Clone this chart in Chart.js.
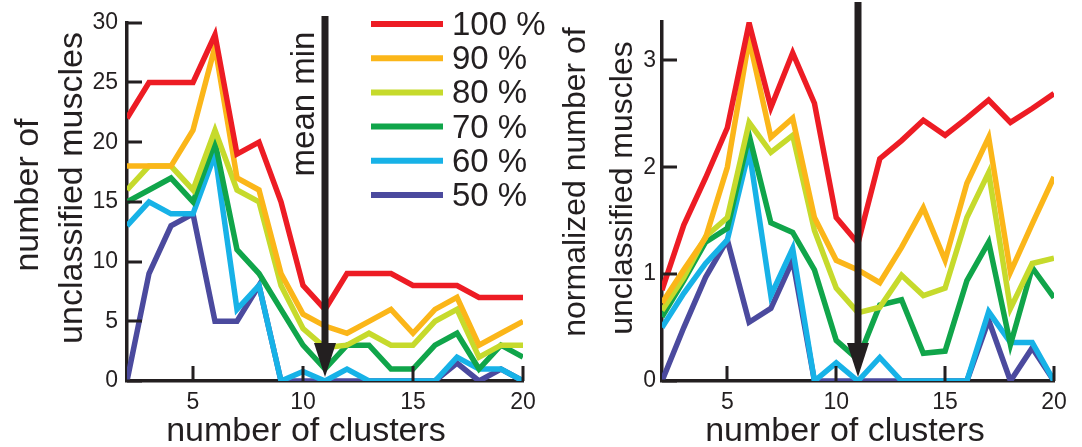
<!DOCTYPE html>
<html>
<head>
<meta charset="utf-8">
<title>unclassified muscles</title>
<script src="https://cdn.jsdelivr.net/npm/chart.js@4.4.1/dist/chart.umd.min.js"></script>
<style>
    html, body { margin: 0; padding: 0; background: #fff; }
    #wrap { position: relative; width: 1082px; height: 447px; overflow: hidden; }
    .box { position: absolute; top: 0; height: 447px; }
    #leftBox { left: 0; width: 548px; }
    #rightBox { left: 548px; width: 534px; }
</style>
</head>
<body>
<div id="wrap">
    <div class="box" id="leftBox"><canvas id="countChart"></canvas></div>
    <div class="box" id="rightBox"><canvas id="normChart"></canvas></div>
</div>
<script>
// number of clusters (x)
const CLUSTERS = [2, 3, 4, 5, 6, 7, 8, 9, 10, 11, 12, 13, 14, 15, 16, 17, 18, 19, 20];
const SERIES_LABELS = ['100 %', '90 %', '80 %', '70 %', '60 %', '50 %'];
const SERIES_COLORS = ['#ED1C24', '#FBB619', '#C6DA2C', '#10A54A', '#17B2E7', '#4B4A9E'];

// left: number of unclassified muscles
const COUNT_100 = [22, 25, 25, 25, 29, 19, 20, 15, 8, 6, 9, 9, 9, 8, 8, 8, 7, 7, 7];
const COUNT_90  = [18, 18, 18, 21, 28, 17, 16, 9, 5.6, 4.6, 4, 5, 6, 4, 6, 7, 3, 4, 5];
const COUNT_80  = [16, 18, 18, 16, 21, 16, 15, 8, 4.4, 2.8, 3, 4, 3, 3, 5, 6, 2, 3, 3];
const COUNT_70  = [15, 16, 17, 15, 20, 11, 9, 6, 3, 1, 3, 3, 1, 1, 3, 4, 1, 3, 2];
const COUNT_60  = [13, 15, 14, 14, 19, 6, 8, 0, 0.8, 0, 1, 0, 0, 0, 0, 2, 1, 1, 0];
const COUNT_50  = [0, 9, 13, 14, 5, 5, 8, 0, 0, 0, 0, 0, 0, 0, 0, 1.5, 0, 1, 0];

// right: normalized number of unclassified muscles
const NORM_100 = [0.85, 1.46, 1.9, 2.37, 3.35, 2.56, 3.07, 2.6, 1.53, 1.29, 2.08, 2.25, 2.44, 2.3, 2.46, 2.63, 2.42, 2.55, 2.69];
const NORM_90  = [0.73, 1.04, 1.34, 2.0, 3.2, 2.28, 2.46, 1.53, 1.13, 1.04, 0.92, 1.25, 1.62, 1.13, 1.85, 2.28, 1.02, 1.47, 1.91];
const NORM_80  = [0.66, 0.97, 1.35, 1.53, 2.42, 2.14, 2.3, 1.41, 0.87, 0.64, 0.69, 0.99, 0.8, 0.87, 1.53, 1.95, 0.68, 1.1, 1.15];
const NORM_70  = [0.6, 0.94, 1.3, 1.43, 2.3, 1.48, 1.39, 1.04, 0.38, 0.2, 0.71, 0.76, 0.26, 0.28, 0.94, 1.3, 0.34, 1.06, 0.78];
const NORM_60  = [0.5, 0.82, 1.1, 1.32, 2.16, 0.8, 1.24, 0, 0.17, 0, 0.22, 0, 0, 0, 0, 0.65, 0.36, 0.36, 0];
const NORM_50  = [0, 0.5, 0.97, 1.32, 0.55, 0.68, 1.13, 0, 0, 0, 0, 0, 0, 0, 0, 0.57, 0, 0.31, 0];

const X_TICKS = [5, 10, 15, 20];
const COUNT_TICKS = [0, 5, 10, 15, 20, 25, 30];
const NORM_TICKS = [0, 1, 2, 3];
const MEAN_MIN = 11;

const INK = '#231F20';
const FONT = '"Liberation Sans", Arial, sans-serif';

// axis titles, inward ticks, arrow, legend
const decorPlugin = {
    id: 'decor',
    afterDraw(chart, args, opts) {
        const ctx = chart.ctx;
        const area = chart.chartArea;
        const xs = chart.scales.x, ys = chart.scales.y;
        ctx.save();

        // tick marks pointing into the plot
        ctx.strokeStyle = INK;
        ctx.lineWidth = 3;
        ctx.beginPath();
        ys.ticks.forEach(function(t) {
            const py = Math.round(ys.getPixelForValue(t.value));
            ctx.moveTo(area.left, py);
            ctx.lineTo(area.left + 15, py);
        });
        xs.ticks.forEach(function(t) {
            const px = Math.round(xs.getPixelForValue(t.value));
            ctx.moveTo(px, area.bottom);
            ctx.lineTo(px, area.bottom - 15);
        });
        ctx.stroke();

        // "mean min" arrow
        const ax = xs.getPixelForValue(MEAN_MIN);
        const tipY = area.bottom - 4;
        const headH = 34, headW = 11;
        ctx.fillStyle = INK;
        ctx.fillRect(ax - 3.5, opts.arrowTop, 7, tipY - headH - opts.arrowTop + 2);
        ctx.beginPath();
        ctx.moveTo(ax - headW, tipY - headH);
        ctx.lineTo(ax + headW, tipY - headH);
        ctx.lineTo(ax, tipY);
        ctx.closePath();
        ctx.fill();

        ctx.fillStyle = INK;
        ctx.textBaseline = 'alphabetic';
        ctx.textAlign = 'center';

        // y title (rotated)
        ctx.font = opts.yTitleSize + 'px ' + FONT;
        opts.yTitle.forEach(function(line, i) {
            ctx.save();
            ctx.translate(opts.yTitleX[i], opts.yTitleY[i]);
            ctx.rotate(-Math.PI / 2);
            ctx.fillText(line, 0, 0);
            ctx.restore();
        });

        // x title
        ctx.font = '34px ' + FONT;
        ctx.fillText(opts.xTitle, opts.xTitleX, 441);

        if (opts.meanLabel) {
            ctx.font = '33px ' + FONT;
            ctx.save();
            ctx.translate(ax - 11, 104);
            ctx.rotate(-Math.PI / 2);
            ctx.fillText(opts.meanLabel, 0, 0);
            ctx.restore();
        }

        if (opts.legend) {
            ctx.font = '33px ' + FONT;
            ctx.textAlign = 'left';
            ctx.textBaseline = 'middle';
            chart.data.datasets.forEach(function(ds, i) {
                const ly = 24 + i * 34.2;
                ctx.strokeStyle = ds.borderColor;
                ctx.lineWidth = 6;
                ctx.beginPath();
                ctx.moveTo(371, ly);
                ctx.lineTo(443, ly);
                ctx.stroke();
                ctx.fillStyle = INK;
                ctx.fillText(ds.label, 452, ly + 2);
            });
        }
        ctx.restore();
    }
};

function makeDatasets(series) {
    return series.map(function(vals, i) {
        return {
            label: SERIES_LABELS[i],
            data: CLUSTERS.map(function(c, j) { return {x: c, y: vals[j]}; }),
            borderColor: SERIES_COLORS[i],
            backgroundColor: SERIES_COLORS[i],
            borderWidth: 5.5,
            borderJoinStyle: 'miter',
            pointRadius: 0,
            tension: 0,
            fill: false
        };
    });
}

function makeChart(canvasId, series, cfg) {
    const ctx = document.getElementById(canvasId).getContext('2d');
    return new Chart(ctx, {
        type: 'line',
        data: { datasets: makeDatasets(series) },
        plugins: [decorPlugin],
        options: {
            responsive: true,
            maintainAspectRatio: false,
            animation: false,
            layout: { padding: { left: 0, top: cfg.top, right: cfg.right, bottom: 0 } },
            plugins: {
                legend: { display: false },
                tooltip: { enabled: false },
                decor: cfg.decor
            },
            scales: {
                x: {
                    type: 'linear',
                    min: 2,
                    max: 20,
                    afterBuildTicks: function(scale) {
                        scale.ticks = X_TICKS.map(function(v) { return {value: v}; });
                    },
                    afterFit: function(scale) { scale.height = 447 - 381; },
                    grid: { display: false, drawTicks: false },
                    border: { display: true, color: INK, width: 3.5 },
                    ticks: { color: INK, padding: 8, maxRotation: 0, font: { family: FONT, size: 23 } }
                },
                y: {
                    min: 0,
                    max: cfg.yMax,
                    afterBuildTicks: function(scale) {
                        scale.ticks = cfg.yTicks.map(function(v) { return {value: v}; });
                    },
                    afterFit: function(scale) { scale.width = cfg.yWidth; },
                    grid: { display: false, drawTicks: false },
                    border: { display: true, color: INK, width: 3.5 },
                    ticks: { color: INK, padding: cfg.yPad, font: { family: FONT, size: 23 } }
                }
            }
        }
    });
}

makeChart('countChart',
    [COUNT_100, COUNT_90, COUNT_80, COUNT_70, COUNT_60, COUNT_50],
    {
        top: 20, right: 25, yMax: 30, yTicks: COUNT_TICKS, yWidth: 127, yPad: 9,
        decor: {
            arrowTop: 16,
            yTitle: ['number of', 'unclassified muscles'],
            yTitleSize: 34,
            yTitleX: [38, 82],
            yTitleY: [195, 188],
            xTitle: 'number of clusters',
            xTitleX: 306,
            meanLabel: 'mean min',
            legend: true
        }
    });

makeChart('normChart',
    [NORM_100, NORM_90, NORM_80, NORM_70, NORM_60, NORM_50],
    {
        top: 22, right: 28, yMax: 3.36, yTicks: NORM_TICKS, yWidth: 114, yPad: 6,
        decor: {
            arrowTop: 2,
            yTitle: ['normalized number of', 'unclassified muscles'],
            yTitleSize: 32,
            yTitleX: [37, 84],
            yTitleY: [182, 188],
            xTitle: 'number of clusters',
            xTitleX: 297,
            meanLabel: null,
            legend: false
        }
    });
</script>
</body>
</html>
